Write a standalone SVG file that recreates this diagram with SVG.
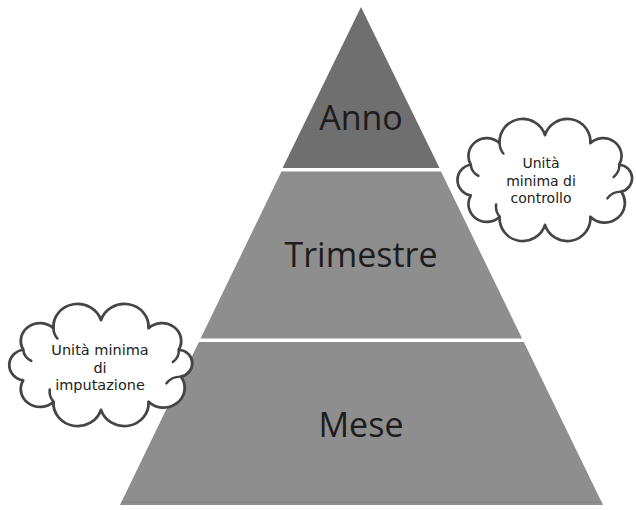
<svg xmlns="http://www.w3.org/2000/svg" width="636" height="510" viewBox="0 0 636 510">
<style>
.lvl{font-family:"Open Sans","Liberation Sans",sans-serif;font-size:34px;fill:#1c1c1c;text-anchor:middle}
.note{font-family:"DejaVu Sans","Liberation Sans",sans-serif;font-size:14px;fill:#222;text-anchor:middle}
.note2{font-family:"DejaVu Sans","Liberation Sans",sans-serif;font-size:14.5px;fill:#222;text-anchor:middle}
.cloud{fill:#ffffff;stroke:#454545;stroke-width:2.6;stroke-linejoin:round}
.inner{fill:none;stroke:#454545;stroke-width:2.4;stroke-linecap:round}
</style>
<defs>
<path id="cloudShape" d="M-71.4,-15 A17.6,17.6 0 0 1 -43.6,-36 A22.3,22.3 0 0 1 0,-44 A22.3,22.3 0 0 1 43.6,-36 A17.6,17.6 0 0 1 71.4,-15 A13.4,13.4 0 0 1 73.4,11.4 A19.4,19.4 0 0 1 43.6,36 A22.3,22.3 0 0 1 0,44 A22.3,22.3 0 0 1 -43.6,36 A17.6,17.6 0 0 1 -71.4,15 A15.2,15.2 0 0 1 -71.4,-15 Z"/>
<path id="cloudInner" d="M-71.4,-15 A14,14 0 0 0 -64,-4 M71.4,-15 A14,14 0 0 1 66,-3 M73.4,11.4 A16,16 0 0 0 60,18 M-43.6,36 A16,16 0 0 1 -47,24 M-43.6,-36 A15,15 0 0 0 -40,-26"/>
</defs>
<rect x="0" y="0" width="636" height="510" fill="#ffffff"/>
<g id="level-anno">
<polygon points="361,7 439.5,168 282.6,168" fill="#6f6f6f"/>
<text class="lvl" x="361" y="130">Anno</text>
</g>
<g id="level-trimestre">
<polygon points="281.4,171.5 441,171.5 522.1,338.5 200.6,338.5" fill="#8e8e8e"/>
<text class="lvl" x="361" y="267">Trimestre</text>
</g>
<g id="level-mese">
<polygon points="198.9,342 523.8,342 603,505 120,505" fill="#8e8e8e"/>
<line x1="121.5" y1="502" x2="601.5" y2="502" stroke="#858585" stroke-width="1.5"/>
<text class="lvl" x="361" y="437">Mese</text>
</g>
<g id="connectors"></g>
<g id="cloud-controllo">
<g transform="translate(545,180) scale(1.04,1.02)">
<use href="#cloudShape" class="cloud"/>
<use href="#cloudInner" class="inner"/>
</g>
<text class="note" x="541" y="168">Unità</text>
<text class="note" x="541" y="185.5">minima di</text>
<text class="note" x="541" y="203">controllo</text>
</g>
<g id="cloud-imputazione">
<g transform="translate(101,365) scale(1.09,1.02)">
<use href="#cloudShape" class="cloud"/>
<use href="#cloudInner" class="inner"/>
</g>
<text class="note2" x="100" y="355">Unità minima</text>
<text class="note2" x="100" y="372.5">di</text>
<text class="note2" x="100" y="390">imputazione</text>
</g>
</svg>
